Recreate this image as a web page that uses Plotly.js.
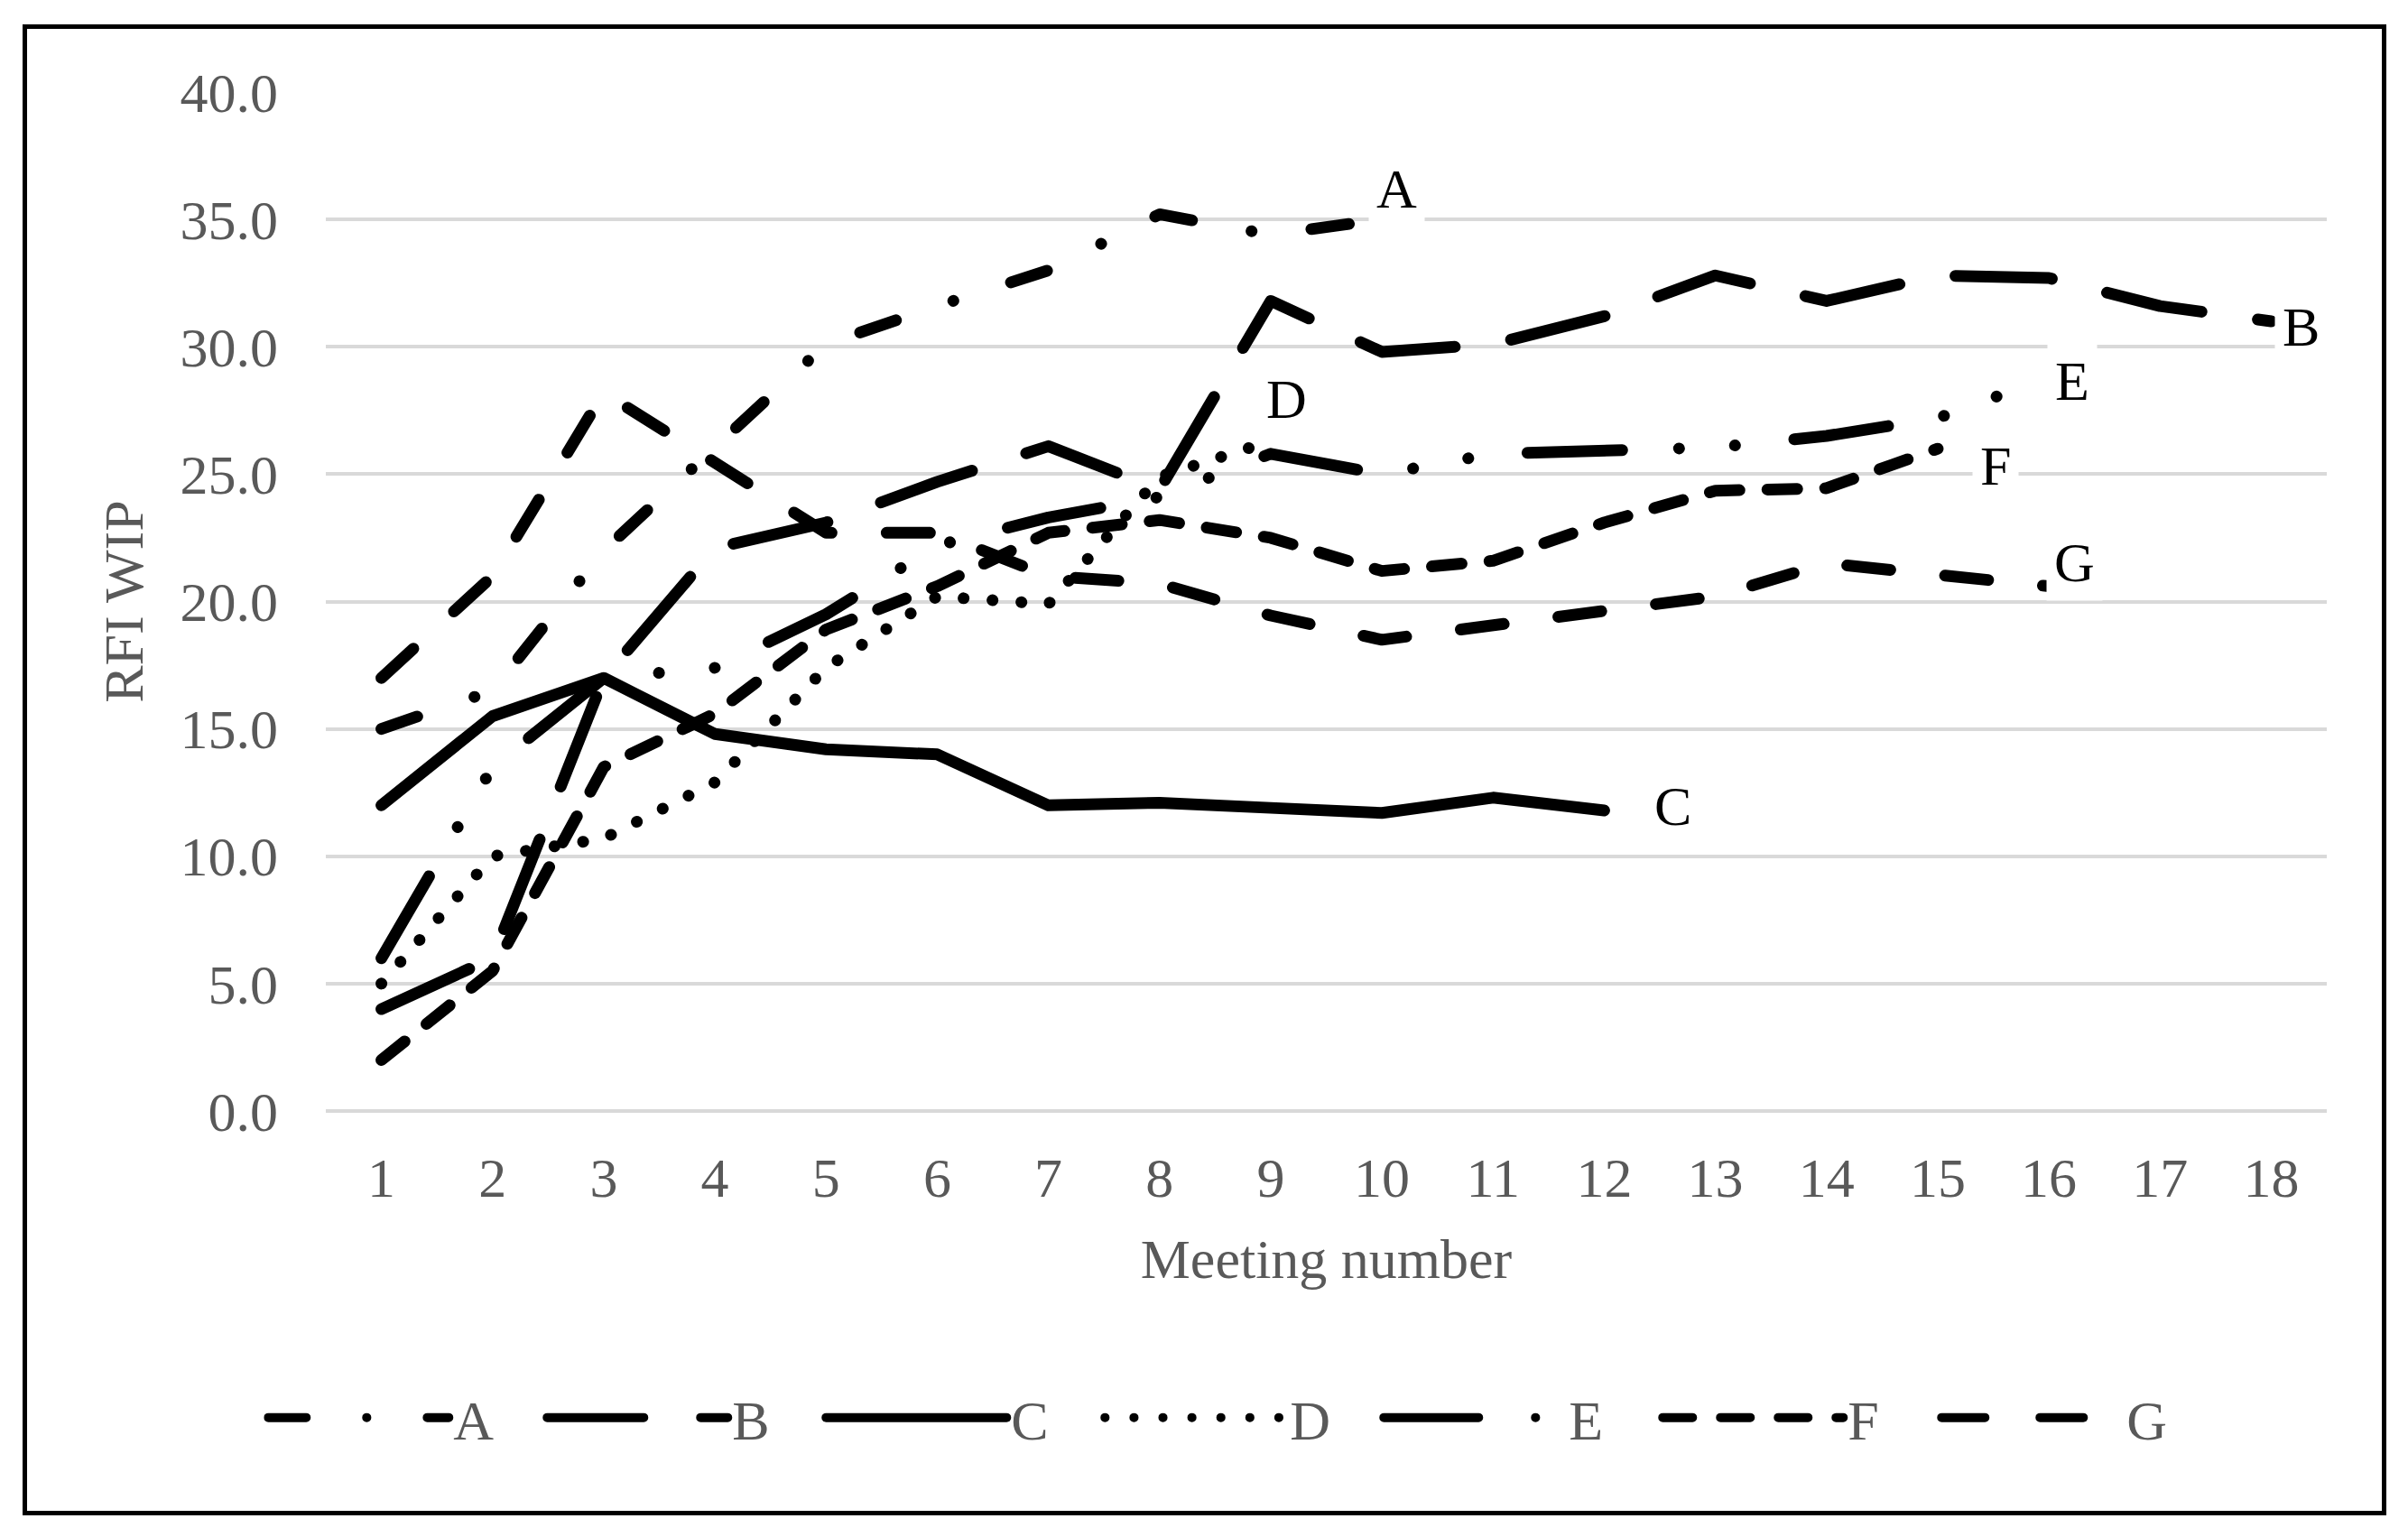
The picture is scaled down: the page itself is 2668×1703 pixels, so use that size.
<!DOCTYPE html>
<html>
<head>
<meta charset="utf-8">
<script src="https://cdn.plot.ly/plotly-3.0.1.min.js"></script>
<style>
  html, body { margin: 0; padding: 0; background: #fff; }
  #chart { position: absolute; left: 0; top: 0; width: 2668px; height: 1703px; }
  #frame {
    position: absolute; left: 25px; top: 27px; width: 2619px; height: 1652px;
    box-sizing: border-box; border: 5px solid #000; pointer-events: none;
  }
</style>
</head>
<body>
<div id="chart"></div>
<div id="frame"></div>
<script>
  // meeting numbers on the x axis
  const meetings = [1, 2, 3, 4, 5, 6, 7, 8, 9, 10, 11, 12, 13, 14, 15, 16, 17, 18];

  // RFI WIP per project
  const seriesA = [15.0, 16.5, 22.0, 26.0, 30.1, 31.6, 33.0, 35.2, 34.4, 35.0];
  const seriesB = [4.0, 6.0, 17.0, 22.1, 23.1, 24.7, 26.1, 24.4, 31.8, 29.8, 30.1, 31.2, 32.8, 31.8, 32.8, 32.7, 31.6, 31.0];
  const seriesC = [12.0, 15.5, 17.0, 14.8, 14.2, 14.0, 12.0, 12.1, 11.9, 11.7, 12.3, 11.8];
  const seriesD = [5.0, 10.0, 10.7, 12.9, 17.4, 20.2, 19.9, 24.9, 26.3];
  const seriesE = [6.0, 13.5, 17.0, 17.4, 19.5, 22.2, 23.3, 24.1, 25.8, 25.0, 25.8, 25.9, 26.05, 26.5, 27.2, 28.8];
  const seriesF = [2.0, 5.5, 13.5, 15.6, 18.9, 20.6, 22.7, 23.2, 22.5, 21.2, 21.6, 23.1, 24.35, 24.45, 26.0];
  const seriesG = [17.0, 21.0, 28.2, 25.4, 22.7, 22.7, 21.0, 20.7, 19.45, 18.5, 19.1, 19.6, 20.2, 21.5, 21.05, 20.6];

  const names = ["A", "B", "C", "D", "E", "F", "G"];
  const allSeries = [seriesA, seriesB, seriesC, seriesD, seriesE, seriesF, seriesG];

  const serif = "Liberation Serif, Times New Roman, serif";
  const gray = "#595959";

  const dashes = [
    "42px,67px,0.1px,67px",
    "107px,63px",
    "solid",
    "0.1px,32px",
    "105px,63px,0.1px,62px,0.1px,66px",
    "33px,31px",
    "48px,61px",
  ];

  const traces = allSeries.map((ys, i) => {
    return {
      x: meetings.slice(0, ys.length),
      y: ys,
      type: "scatter",
      mode: "lines",
      name: names[i],
      line: { color: "#000", width: 13, dash: dashes[i] },
      hoverinfo: "skip",
    };
  });

  // end-of-line labels
  const labelPos = [
    [10.13, 36.2],
    [18.27, 30.8],
    [12.62, 11.97],
    [9.14, 27.94],
    [16.21, 28.65],
    [15.52, 25.35],
    [16.23, 21.53],
  ];
  const annotations = names.map((n, i) => ({
    x: labelPos[i][0],
    y: labelPos[i][1],
    xref: "x",
    yref: "y",
    text: n,
    showarrow: false,
    xanchor: "center",
    yanchor: "middle",
    bgcolor: "#fff",
    borderpad: 8,
    font: { family: serif, size: 62, color: "#000" },
  }));

  const layout = {
    width: 2668,
    height: 1703,
    paper_bgcolor: "#fff",
    plot_bgcolor: "#fff",
    margin: { l: 361, r: 90, t: 102, b: 472 },
    showlegend: true,
    legend: {
      orientation: "h",
      x: -0.031,
      xanchor: "left",
      y: -0.301,
      yanchor: "middle",
      entrywidth: 94,
      entrywidthmode: "pixels",
      itemwidth: 200,
      font: { family: serif, size: 62, color: gray },
    },
    xaxis: {
      range: [0.5, 18.5],
      tickvals: meetings,
      showgrid: false,
      zeroline: false,
      showline: false,
      ticks: "",
      ticklabelstandoff: 32,
      tickfont: { family: serif, size: 62, color: gray },
      title: {
        text: "Meeting number",
        font: { family: serif, size: 62, color: gray },
        standoff: 34,
      },
    },
    yaxis: {
      range: [0, 40],
      dtick: 5,
      tickformat: ".1f",
      showgrid: true,
      gridcolor: "#d9d9d9",
      gridwidth: 4,
      zeroline: true,
      zerolinecolor: "#d9d9d9",
      zerolinewidth: 4,
      showline: false,
      ticks: "",
      ticklabelstandoff: 52,
      tickfont: { family: serif, size: 62, color: gray },
      title: {
        text: "RFI WIP",
        font: { family: serif, size: 62, color: gray },
        standoff: 20,
      },
    },
    annotations: annotations,
  };

  Plotly.newPlot("chart", traces, layout, { displayModeBar: false, staticPlot: true }).then((gd) => {
    gd.querySelectorAll(".scatterlayer path.js-line, .legendlines path").forEach((p) => {
      p.style.strokeLinecap = "round";
      p.style.strokeLinejoin = "round";
    });
  });
</script>
</body>
</html>
